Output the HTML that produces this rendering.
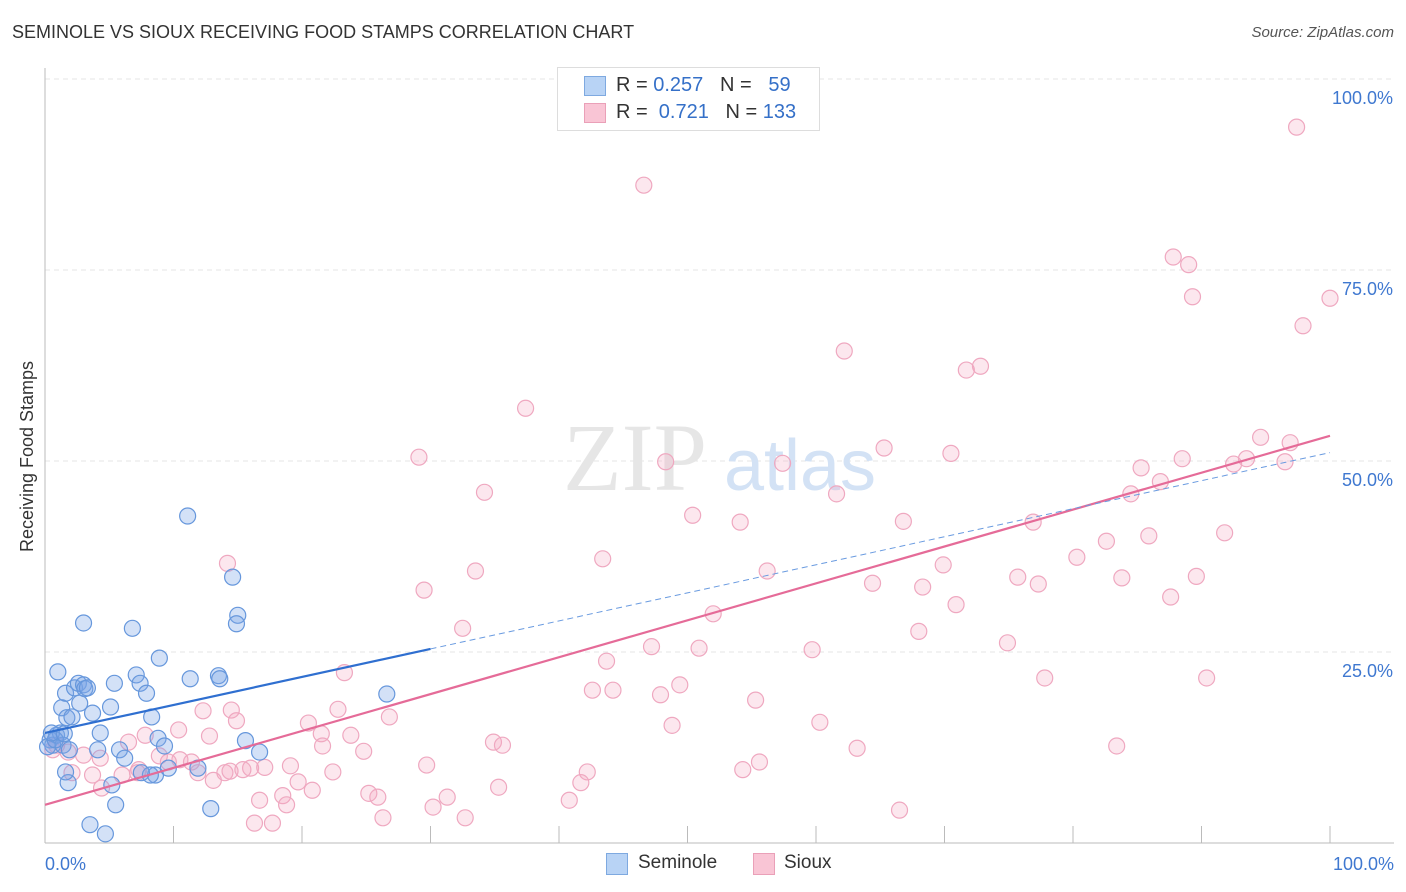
<!DOCTYPE html>
<html><head><meta charset="utf-8">
<style>
body{margin:0;background:#fff;font-family:"Liberation Sans",sans-serif;}
#wrap{position:relative;width:1406px;height:892px;overflow:hidden;}
.t{position:absolute;white-space:nowrap;}
</style></head>
<body>
<div id="wrap">
<div class="t" style="left:12px;top:22px;font-size:18px;color:#333;">SEMINOLE VS SIOUX RECEIVING FOOD STAMPS CORRELATION CHART</div>
<div class="t" style="right:12px;top:24px;font-size:15px;color:#555;font-style:italic;">Source: ZipAtlas.com</div>
<div class="t" style="left:-68px;top:446px;font-size:18px;color:#333;transform:rotate(-90deg);">Receiving Food Stamps</div>
<svg id="svg" width="1406" height="892" style="position:absolute;left:0;top:0;"></svg>
<div style="position:absolute;left:557px;top:67px;width:261px;height:62px;border:1px solid #ddd;background:#fff;font-size:20px;color:#333;">
  <div style="position:absolute;left:26px;top:8px;width:20px;height:18px;background:#b8d3f5;border:1px solid #7ea9e0;"></div>
  <div class="t" style="left:58px;top:6px;">R = <span style="color:#3570c8">0.257</span>&nbsp;&nbsp;&nbsp;N = &nbsp;&nbsp;<span style="color:#3570c8">59</span></div>
  <div style="position:absolute;left:26px;top:35px;width:20px;height:18px;background:#f9c5d5;border:1px solid #eaa0b8;"></div>
  <div class="t" style="left:58px;top:33px;">R = &nbsp;<span style="color:#3570c8">0.721</span>&nbsp;&nbsp;&nbsp;N = <span style="color:#3570c8">133</span></div>
</div>
<div style="position:absolute;left:606px;top:852px;font-size:19px;color:#333;">
  <div style="position:absolute;left:0;top:1px;width:20px;height:20px;background:#b8d3f5;border:1px solid #7ea9e0;"></div>
  <div class="t" style="left:32px;top:0;">Seminole</div>
  <div style="position:absolute;left:147px;top:1px;width:20px;height:20px;background:#f9c5d5;border:1px solid #eaa0b8;"></div>
  <div class="t" style="left:178px;top:0;">Sioux</div>
</div>
</div>
<script>
const seminoleX=[0.4,0.6,0.9,1.2,1.4,1.0,1.3,1.6,1.7,1.9,2.1,2.3,2.6,2.7,3.0,3.1,3.3,3.7,3.0,4.3,4.1,5.1,5.4,5.5,5.8,6.2,6.8,7.1,7.4,7.9,8.3,8.6,8.8,8.9,9.3,9.6,11.1,11.3,11.9,12.9,13.5,13.6,14.6,15.0,14.9,15.6,16.7,26.6,3.5,4.7,1.8,5.2,1.6,0.2,0.8,0.5,1.5,8.2,7.5];
const seminoleY=[13.5,12.8,14.1,14.4,12.8,22.4,17.7,19.6,16.4,12.2,16.5,20.3,20.9,18.3,20.7,20.2,20.3,17.0,28.8,14.4,12.2,17.8,20.9,5.0,12.2,11.1,28.1,22.0,20.9,19.6,16.5,8.9,13.7,24.2,12.7,9.8,42.8,21.5,9.8,4.5,21.9,21.5,34.8,29.8,28.7,13.4,11.9,19.5,2.4,1.2,7.9,7.6,9.3,12.6,13.5,14.4,14.3,8.9,9.2];
const siouxX=[97.4,46.6,87.8,89.0,89.3,100,97.9,62.2,72.8,71.7,37.4,94.6,96.9,65.3,70.5,29.1,48.3,57.4,88.5,93.5,92.5,96.5,85.3,86.8,34.2,61.6,84.5,50.4,54.1,66.8,76.9,82.6,85.9,91.8,80.3,43.4,69.9,14.2,56.2,33.5,75.7,83.8,89.6,64.4,77.3,68.3,29.5,70.9,87.6,52.0,32.5,68.0,47.2,50.9,59.7,74.9,43.7,23.3,77.8,90.4,49.4,42.6,44.2,47.9,55.3,14.5,12.3,22.8,26.8,14.9,20.5,48.8,60.3,10.4,12.8,21.5,23.8,7.8,6.5,34.9,35.6,83.4,21.6,63.2,24.8,0.6,1.8,4.3,3.0,8.9,10.5,11.4,9.6,16.0,17.1,19.1,29.7,55.6,54.3,42.2,22.4,11.9,14.0,15.4,6.0,7.2,3.7,2.1,13.1,19.7,20.8,41.7,35.3,4.4,25.2,25.9,31.3,16.7,18.5,18.8,40.8,30.2,66.5,26.3,32.7,16.3,17.7,14.4,0.9,7.3];
const siouxY=[93.7,86.1,76.7,75.7,71.5,71.3,67.7,64.4,62.4,61.9,56.9,53.1,52.4,51.7,51.0,50.5,49.9,49.7,50.3,50.3,49.6,49.9,49.1,47.3,45.9,45.7,45.7,42.9,42.0,42.1,42.0,39.5,40.2,40.6,37.4,37.2,36.4,36.6,35.6,35.6,34.8,34.7,34.9,34.0,33.9,33.5,33.1,31.2,32.2,30.0,28.1,27.7,25.7,25.5,25.3,26.2,23.8,22.3,21.6,21.6,20.7,20.0,20.0,19.4,18.7,17.4,17.3,17.5,16.5,16.0,15.7,15.4,15.8,14.8,14.0,14.3,14.1,14.1,13.2,13.2,12.8,12.7,12.7,12.4,12.0,12.2,11.9,11.1,11.5,11.4,10.9,10.6,10.6,9.8,9.9,10.1,10.2,10.6,9.6,9.3,9.3,9.2,9.2,9.6,8.9,9.2,8.9,9.2,8.2,8.0,6.9,7.9,7.3,7.2,6.5,6.0,6.0,5.6,6.2,5.0,5.6,4.7,4.3,3.3,3.3,2.6,2.6,9.4,12.8,9.6];
const seminoleTrend=[14.4,25.4,51.1]; // at x=0, 30, 100
const siouxTrend=[5.0,53.3]; // at x=0, 100
const xTicks=[0,10,20,30,40,50,60,70,80,90,100];
const yTicks=[25,50,75,100];
const yTickLabels=["25.0%","50.0%","75.0%","100.0%"];

const NS="http://www.w3.org/2000/svg";
const svg=document.getElementById('svg');
const X=v=>45+v*12.85;
const Y=v=>843-v*7.64;
function mk(tag,attrs){const e=document.createElementNS(NS,tag);for(const k in attrs)e.setAttribute(k,attrs[k]);svg.appendChild(e);return e;}

yTicks.forEach((t,i)=>{
  const g=mk('line',{x1:45,x2:1394,y1:Y(t),y2:Y(t),stroke:'#e6e6e6','stroke-dasharray':'5,4'});
  
  
  const tx=mk('text',{x:1393,y:Y(t)+25,'text-anchor':'end','font-size':18,fill:'#3f78d0','font-family':'Liberation Sans, sans-serif'});
  tx.textContent=yTickLabels[i];
  
  
});
const ax=mk('line',{x1:45,x2:45,y1:68,y2:843,stroke:'#bbb'});


const bx=mk('line',{x1:45,x2:1394,y1:843,y2:843,stroke:'#bbb'});


xTicks.forEach(t=>{
  const l=mk('line',{x1:X(t),x2:X(t),y1:843,y2:826,stroke:'#bbb'});
  
  
});
const xl0=mk('text',{x:45,y:870,'font-size':18,fill:'#3f78d0','font-family':'Liberation Sans, sans-serif'});
xl0.textContent='0.0%';


const xl1=mk('text',{x:1394,y:870,'text-anchor':'end','font-size':18,fill:'#3f78d0','font-family':'Liberation Sans, sans-serif'});
xl1.textContent='100.0%';



const w1=mk('text',{x:635,y:490,'text-anchor':'middle','font-size':96,fill:'#e6e6e6','font-family':'Liberation Serif, serif'});
w1.textContent='ZIP';


const w2=mk('text',{x:800,y:490,'text-anchor':'middle','font-size':72,fill:'#d3e2f5','font-family':'Liberation Sans, sans-serif'});
w2.textContent='atlas';



siouxX.forEach((x,i)=>{
  const c=mk('circle',{cx:X(x),cy:Y(siouxY[i]),r:8,fill:'rgba(244,170,195,0.28)',stroke:'#efa8c0','stroke-width':1.2});
  
  
});
seminoleX.forEach((x,i)=>{
  const c=mk('circle',{cx:X(x),cy:Y(seminoleY[i]),r:8,fill:'rgba(120,165,230,0.33)',stroke:'#6697dc','stroke-width':1.2});
  
  
});
const st=mk('line',{x1:X(0),y1:Y(siouxTrend[0]),x2:X(100),y2:Y(siouxTrend[1]),stroke:'#e56b98','stroke-width':2.2});


const mt=mk('line',{x1:X(0),y1:Y(seminoleTrend[0]),x2:X(30),y2:Y(seminoleTrend[1]),stroke:'#2f6fd0','stroke-width':2.2});


const md=mk('line',{x1:X(30),y1:Y(seminoleTrend[1]),x2:X(100),y2:Y(seminoleTrend[2]),stroke:'#6a9be0','stroke-width':1,'stroke-dasharray':'6,4'});


</script>
</body></html>
